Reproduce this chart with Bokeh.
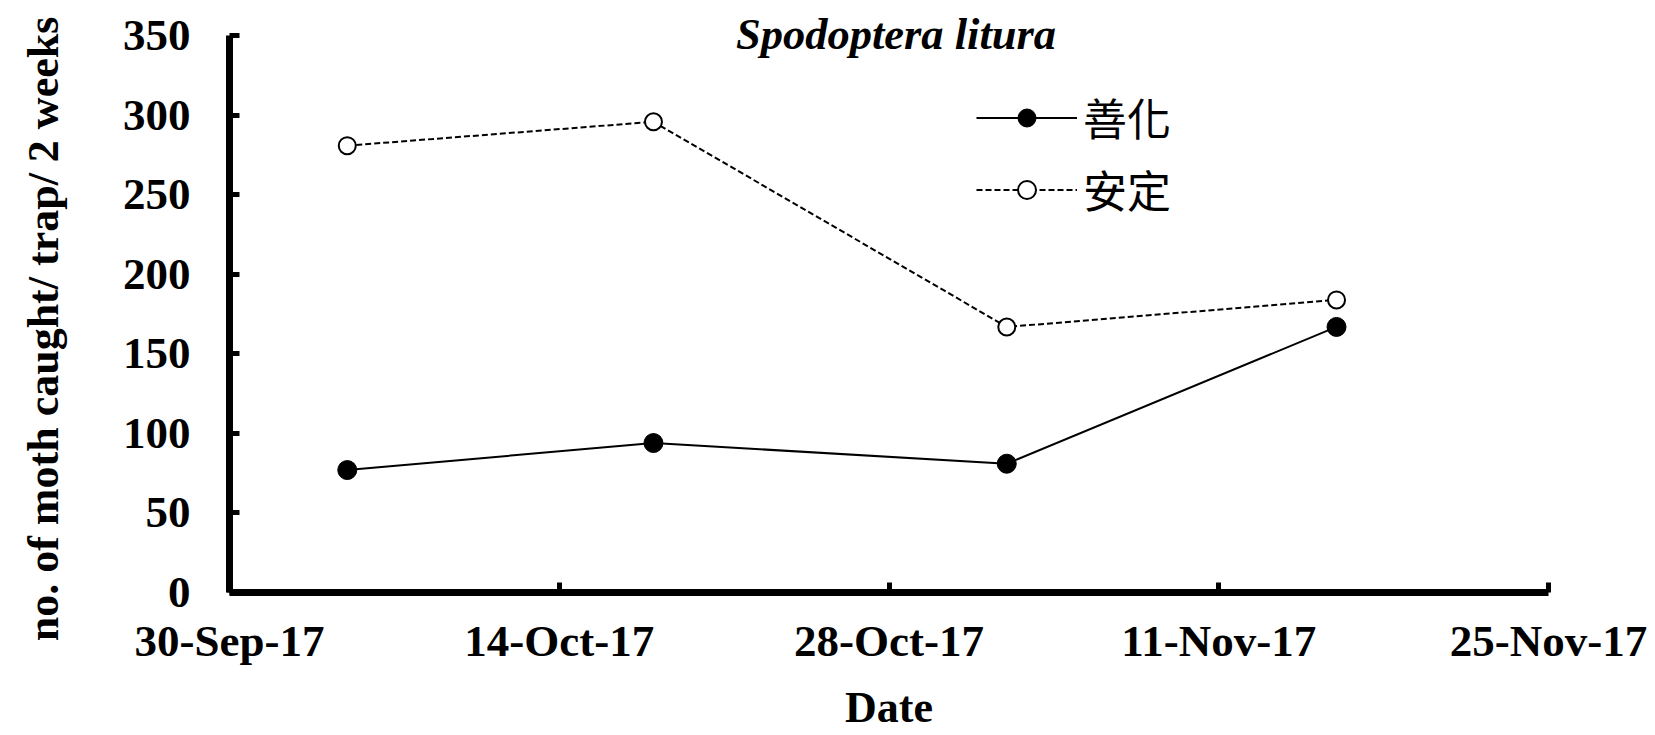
import pandas as pd
from bokeh.plotting import figure
from bokeh.models import (Range1d, FixedTicker, DatetimeTickFormatter, Legend,
                          LegendItem, Label, ColumnDataSource)
from bokeh.embed import file_html
from bokeh.resources import INLINE

# ---- data ----
dates = ["2017-10-05", "2017-10-18", "2017-11-02", "2017-11-16"]
shanhua = [77, 94, 81, 167]     # 善化 (filled)
anding = [281, 296, 167, 184]   # 安定 (open)
series_names = ["善化", "安定"]
tick_dates = ["2017-09-30", "2017-10-14", "2017-10-28", "2017-11-11", "2017-11-25"]
y_ticks = [0, 50, 100, 150, 200, 250, 300, 350]
title_text = "Spodoptera litura"
x_label = "Date"
y_label = "no. of moth caught/ trap/ 2 weeks"

x = pd.to_datetime(dates)
ticks_dt = pd.to_datetime(tick_dates)
tick_ms = [(t - pd.Timestamp("1970-01-01")) / pd.Timedelta(milliseconds=1) for t in ticks_dt]

src = ColumnDataSource(dict(x=x, s=shanhua, a=anding))

p = figure(width=1655, height=735, output_backend="svg", toolbar_location=None,
           x_axis_type="datetime",
           x_range=Range1d(ticks_dt[0], ticks_dt[-1]),
           y_range=Range1d(y_ticks[0], 366),
           min_border_left=229, min_border_right=107,
           min_border_top=10, min_border_bottom=143)
p.outline_line_color = None
p.xgrid.visible = False
p.ygrid.visible = False
p.background_fill_color = "white"
p.border_fill_color = "white"

# series
l1 = p.line("x", "s", source=src, line_color="black", line_width=2)
m1 = p.scatter("x", "s", source=src, marker="circle", size=19,
               fill_color="black", line_color="black")
l2 = p.line("x", "a", source=src, line_color="black", line_width=2, line_dash="6 3")
m2 = p.scatter("x", "a", source=src, marker="circle", size=17,
               fill_color="white", line_color="black", line_width=2)

# axes
for ax in (p.xaxis[0], p.yaxis[0]):
    ax.axis_line_width = 7
    ax.axis_line_color = "black"
    ax.major_tick_in = 10
    ax.major_tick_out = 0
    ax.major_tick_line_width = 5
    ax.minor_tick_in = 0
    ax.minor_tick_out = 0
    ax.major_label_text_font = "Liberation Serif"
    ax.major_label_text_font_style = "bold"
    ax.major_label_text_font_size = "45px"
    ax.major_label_text_color = "black"
    ax.axis_label_text_font = "Liberation Serif"
    ax.axis_label_text_font_style = "bold"
    ax.axis_label_text_font_size = "44px"
    ax.axis_label_text_color = "black"

p.xaxis[0].ticker = FixedTicker(ticks=tick_ms)
p.xaxis[0].formatter = DatetimeTickFormatter(days="%d-%b-%y", months="%d-%b-%y")
p.xaxis[0].major_label_standoff = 23
p.xaxis[0].axis_label = x_label
p.xaxis[0].axis_label_standoff = 14

p.yaxis[0].ticker = FixedTicker(ticks=y_ticks)
p.yaxis[0].bounds = (y_ticks[0], y_ticks[-1])
p.yaxis[0].major_label_standoff = 39
p.yaxis[0].axis_label = y_label + "\u00a0" * 5
p.yaxis[0].axis_label_standoff = 52

# title inside plot
mid_ms = (tick_ms[0] + tick_ms[-1]) / 2
p.add_layout(Label(x=mid_ms, y=351, text=title_text, text_align="center",
                   text_baseline="alphabetic", x_offset=7,
                   text_font="Liberation Serif", text_font_style="bold italic",
                   text_font_size="44.5px", text_color="black"))

legend = Legend(items=[LegendItem(label=series_names[0], renderers=[l1, m1]),
                       LegendItem(label=series_names[1], renderers=[l2, m2])],
                location=(747, 371), orientation="vertical",
                glyph_width=101, glyph_height=45, label_height=45,
                spacing=8, padding=0, margin=0, label_standoff=6,
                label_text_font="Noto Sans CJK TC", label_text_font_size="44px",
                label_text_color="black",
                border_line_alpha=0, background_fill_alpha=0)
p.add_layout(legend, "center")

open("out.html", "w").write(file_html(p, INLINE))
